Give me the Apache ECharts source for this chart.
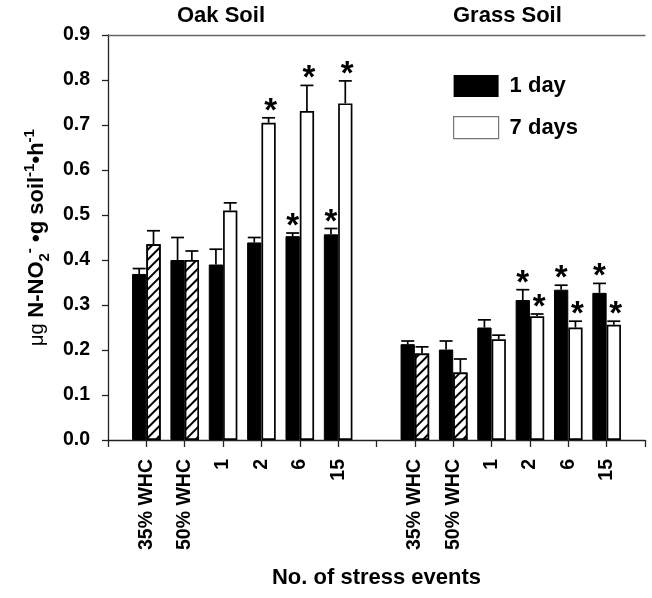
<!DOCTYPE html>
<html>
<head>
<meta charset="utf-8">
<script src="https://cdn.jsdelivr.net/npm/echarts@6/dist/echarts.min.js"></script>
<style>
html,body{margin:0;padding:0;background:#fff;}
#chart{width:652px;height:598px;}
</style>
</head>
<body>
<div id="chart"></div>
<script>
// ---- data ----
const categories = ['', '35% WHC', '50% WHC', '1', '2', '6', '15', '', '35% WHC', '50% WHC', '1', '2', '6', '15', ''];
const groupTitles = ['Oak Soil', 'Grass Soil'];
const seriesNames = ['1 day', '7 days'];
const day1Values = [null, 0.369, 0.400, 0.390, 0.439, 0.453, 0.457, null, 0.213, 0.201, 0.250, 0.311, 0.334, 0.327, null];
const day1Errors = [null, 0.012, 0.050, 0.034, 0.011, 0.007, 0.013, null, 0.007, 0.019, 0.017, 0.023, 0.010, 0.021, null];
const day1Signif = [0, 0, 0, 0, 0, 1, 1, 0, 0, 0, 0, 1, 1, 1, 0];
const day7Values = [null, 0.435, 0.400, 0.510, 0.705, 0.731, 0.748, null, 0.192, 0.150, 0.224, 0.275, 0.250, 0.256, null];
const day7Errors = [null, 0.030, 0.020, 0.017, 0.011, 0.057, 0.050, null, 0.015, 0.030, 0.009, 0.005, 0.014, 0.008, null];
const day7Signif = [0, 0, 0, 0, 1, 1, 1, 0, 0, 0, 0, 1, 1, 1, 0];
const day7Hatched = [0, 1, 1, 0, 0, 0, 0, 0, 1, 1, 0, 0, 0, 0, 0];
const yMin = 0, yMax = 0.9, yStep = 0.1;
const xAxisTitle = 'No. of stress events';

// ---- styling ----
const FONT = '"Liberation Sans", Arial, sans-serif';
const BAR_W = 14.3;
const hatchDecal = {
  symbol: 'rect', symbolSize: 1, dashArrayX: [1, 0], dashArrayY: [1.6, 4.2],
  rotation: -Math.PI / 4, color: '#000', backgroundColor: '#fff'
};

function errData(vals, errs, sig) {
  const out = [];
  vals.forEach((v, i) => { if (v != null) out.push([i, v, errs[i], sig[i]]); });
  return out;
}

function makeRender(sign, starDx) {
  return function (params, api) {
    const idx = api.value(0), mean = api.value(1), err = api.value(2), sig = api.value(3);
    const base = api.coord([idx, mean]);
    const top = api.coord([idx, mean + err]);
    const x = base[0] + sign * BAR_W / 2;
    const st = { stroke: '#000', lineWidth: 1.7 };
    const children = [
      { type: 'line', shape: { x1: x, y1: base[1], x2: x, y2: top[1] }, style: st },
      { type: 'line', shape: { x1: x - 6.5, y1: top[1], x2: x + 6.5, y2: top[1] }, style: st }
    ];
    if (sig) {
      children.push({
        type: 'text', x: x + starDx, y: top[1] - 6,
        style: { text: '*', font: 'bold 33px ' + FONT, fill: '#000', align: 'center', verticalAlign: 'middle' }
      });
    }
    return { type: 'group', children: children };
  };
}

const chart = echarts.init(document.getElementById('chart'), null, { renderer: 'canvas' });

const option = {
  backgroundColor: '#fff',
  animation: false,
  textStyle: { fontFamily: FONT },
  grid: { left: 108, right: 7, top: 35, bottom: 158, containLabel: false },
  legend: {
    left: 448, top: 70, orient: 'vertical',
    itemWidth: 45, itemHeight: 22, itemGap: 19,
    icon: 'rect',
    textStyle: { fontSize: 22, fontWeight: 'bold', color: '#000', fontFamily: FONT, padding: [0, 0, 0, 6] },
    data: [
      { name: seriesNames[0], itemStyle: { color: '#000', borderColor: '#000', borderWidth: 0 } },
      { name: seriesNames[1], itemStyle: { color: '#fff', borderColor: '#777', borderWidth: 1.2, decal: 'none' } }
    ]
  },
  graphic: [
    { type: 'text', left: 177, top: 5, style: { text: groupTitles[0], font: 'bold 22px ' + FONT, fill: '#000' } },
    { type: 'text', left: 453, top: 5, style: { text: groupTitles[1], font: 'bold 22px ' + FONT, fill: '#000' } }
  ],
  xAxis: [
    {
      type: 'category', data: categories, boundaryGap: false, position: 'bottom',
      axisLine: { lineStyle: { color: '#222', width: 1.3 } },
      axisTick: { show: true, interval: 0, length: 7, lineStyle: { color: '#222', width: 1.3 } },
      axisLabel: { interval: 0, rotate: 90, margin: 19, fontSize: 19.5, fontWeight: 'bold', color: '#000', fontFamily: FONT },
      name: xAxisTitle, nameLocation: 'middle', nameGap: 127,
      nameTextStyle: { fontSize: 22, fontWeight: 'bold', color: '#000', fontFamily: FONT },
      splitLine: { show: false }
    },
    {
      type: 'category', data: categories, boundaryGap: false, position: 'top',
      axisLine: { lineStyle: { color: '#666', width: 1.3 } },
      axisTick: { show: false }, axisLabel: { show: false }, splitLine: { show: false }
    }
  ],
  yAxis: {
    type: 'value', min: yMin, max: yMax, interval: yStep,
    axisLine: { show: true, lineStyle: { color: '#222', width: 1.3 } },
    axisTick: { show: true, length: 6, lineStyle: { color: '#222', width: 1.3 } },
    splitLine: { show: false },
    axisLabel: { formatter: v => v.toFixed(1), margin: 18, fontSize: 19.5, fontWeight: 'bold', color: '#000', fontFamily: FONT },
    name: '{mu|\u03bcg }{b|N-NO}{sub|2}{sup|-}{b| \u2022g soil}{sup|-1}{b|\u2022h}{sup|-1}',
    nameLocation: 'middle', nameRotate: 90, nameGap: 55,
    nameTextStyle: {
      color: '#000', fontFamily: FONT,
      rich: {
        mu: { fontSize: 20, fontWeight: 'normal', lineHeight: 30, fontFamily: FONT },
        b: { fontSize: 22, fontWeight: 'bold', lineHeight: 30, fontFamily: FONT },
        sub: { fontSize: 15, fontWeight: 'bold', lineHeight: 14, verticalAlign: 'bottom', fontFamily: FONT },
        sup: { fontSize: 15, fontWeight: 'bold', lineHeight: 14, verticalAlign: 'top', fontFamily: FONT }
      }
    }
  },
  series: [
    {
      name: seriesNames[0], type: 'bar', data: day1Values, barWidth: BAR_W, barGap: '0%',
      itemStyle: { color: '#000', borderColor: '#000', borderWidth: 1 }, z: 2
    },
    {
      name: seriesNames[1], type: 'bar', barWidth: BAR_W, barGap: '0%',
      data: day7Values.map((v, i) => day7Hatched[i]
        ? { value: v, itemStyle: { color: '#fff', borderColor: '#000', borderWidth: 1.7, decal: hatchDecal } }
        : v),
      itemStyle: { color: '#fff', borderColor: '#000', borderWidth: 1.7 }, z: 2
    },
    {
      type: 'custom', renderItem: makeRender(-1, 0), data: errData(day1Values, day1Errors, day1Signif),
      encode: { x: 0, y: 1 }, z: 5, silent: true
    },
    {
      type: 'custom', renderItem: makeRender(1, 2), data: errData(day7Values, day7Errors, day7Signif),
      encode: { x: 0, y: 1 }, z: 5, silent: true
    }
  ]
};
chart.setOption(option);
</script>
</body>
</html>
